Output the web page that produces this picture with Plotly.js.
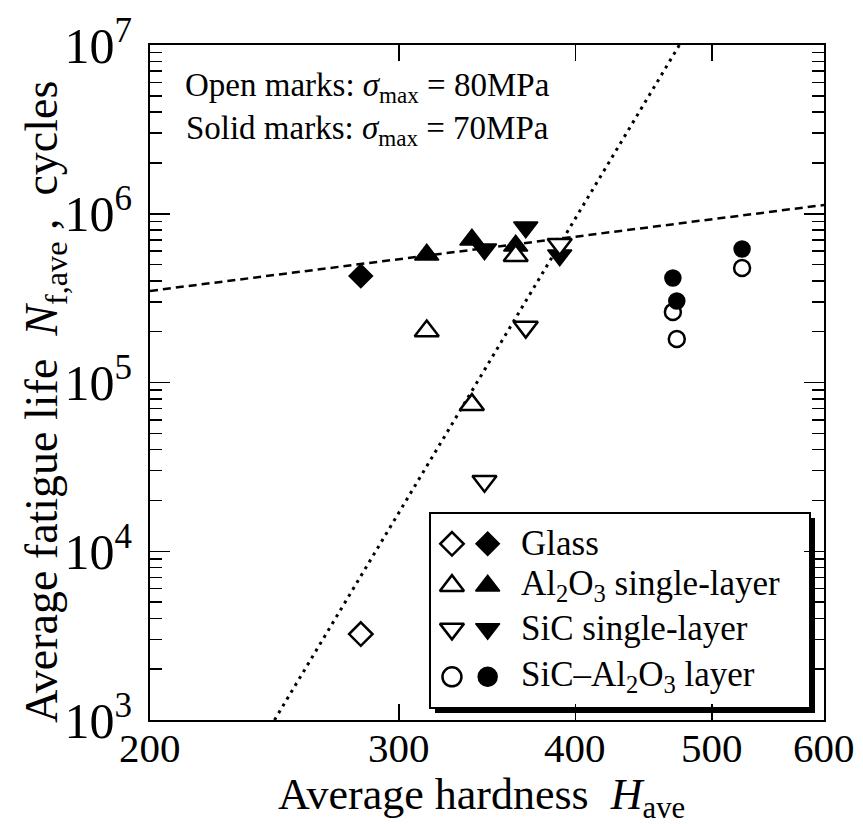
<!DOCTYPE html>
<html>
<head>
<meta charset="utf-8">
<script src="https://cdn.plot.ly/plotly-3.0.1.min.js"></script>
<style>html,body{margin:0;padding:0;background:#fff;}#chart{width:863px;height:824px;}</style>
</head>
<body>
<div id="chart"></div>
<script>
// ---- data ----
const xTickVals = [200, 300, 400, 500, 600];
const xTickText = ["200", "300", "400", "500", "600"];

const glassOpenX = [282];
const glassOpenY = [3230];
const glassFilledX = [282];
const glassFilledY = [428000];

const alOpenX = [314, 338, 363];
const alOpenY = [202000, 73900, 563000];
const alFilledX = [314, 338, 363];
const alFilledY = [571000, 701000, 646000];

const sicOpenX = [345, 369, 390];
const sicOpenY = [26000, 213000, 659000];
const sicFilledX = [345, 369, 390];
const sicFilledY = [616000, 831000, 568000];

const layerOpenX = [469, 472, 525];
const layerOpenY = [262000, 181000, 477000];
const layerFilledX = [469, 472, 525];
const layerFilledY = [416000, 304000, 618000];

const trendSolidX = [200, 600];
const trendSolidY = [349000, 1127000];
const trendOpenX = [245, 474];
const trendOpenY = [1000, 10000000];

const legendLabels = ["Glass", "Al<sub>2</sub>O<sub>3</sub> single-layer", "SiC single-layer", "SiC\u2013Al<sub>2</sub>O<sub>3</sub> layer"];
const legendSymbols = ["diamond", "triangle-up", "triangle-down", "circle"];

const xTitle = "Average hardness\u00A0\u00A0<i>H</i><sub>ave</sub>";
const yTitle = "Average fatigue life\u00A0\u00A0<i>N</i><sub>f,ave</sub>\u00A0,\u00A0\u00A0cycles";
const noteText = "Open marks: <i>\u03C3</i><sub>max</sub> = 80MPa<br>Solid marks: <i>\u03C3</i><sub>max</sub> = 70MPa";

// ---- styling ----
const FONT = "Liberation Serif, Times New Roman, serif";
const openLine = {color: "black", width: 2.5};

function openTrace(x, y, sym, size) {
  return {x: x, y: y, type: "scatter", mode: "markers", showlegend: false, hoverinfo: "skip",
    marker: {symbol: sym, size: size, color: "white", line: openLine}};
}
function filledTrace(x, y, sym, size) {
  return {x: x, y: y, type: "scatter", mode: "markers", showlegend: false, hoverinfo: "skip",
    marker: {symbol: sym, size: size, color: "black", line: {color: "black", width: 1.5}}};
}

const traces = [
  {x: trendSolidX, y: trendSolidY, type: "scatter", mode: "lines", showlegend: false, hoverinfo: "skip",
    line: {color: "black", width: 2.5, dash: "8px,5px"}},
  {x: trendOpenX, y: trendOpenY, type: "scatter", mode: "lines", showlegend: false, hoverinfo: "skip",
    line: {color: "black", width: 3, dash: "3px,5px"}},
  filledTrace(glassFilledX, glassFilledY, "diamond", 18),
  filledTrace(alFilledX, alFilledY, "triangle-up", 21),
  filledTrace(sicFilledX, sicFilledY, "triangle-down", 21),
  openTrace(glassOpenX, glassOpenY, "diamond", 18),
  openTrace(alOpenX, alOpenY, "triangle-up", 21),
  openTrace(sicOpenX, sicOpenY, "triangle-down", 21),
  openTrace(layerOpenX, layerOpenY, "circle", 16),
  filledTrace(layerFilledX, layerFilledY, "circle", 16)
];

// legend markers on an overlay axis (0..1)
const legRowY = [0.261, 0.199, 0.135, 0.064];
const legOpenX = 0.448, legFilledX = 0.501, legTextX = 0.548;
const legSizes = [18, 21, 21, 19];
legendSymbols.forEach(function (sym, i) {
  traces.push({x: [legOpenX], y: [legRowY[i]], xaxis: "x2", yaxis: "y2", type: "scatter", mode: "markers",
    showlegend: false, hoverinfo: "skip",
    marker: {symbol: sym, size: legSizes[i], color: "white", line: openLine}});
  traces.push({x: [legFilledX], y: [legRowY[i]], xaxis: "x2", yaxis: "y2", type: "scatter", mode: "markers",
    showlegend: false, hoverinfo: "skip",
    marker: {symbol: sym, size: legSizes[i], color: "black", line: {color: "black", width: 1.5}}});
});

const annotations = legendLabels.map(function (t, i) {
  return {xref: "paper", yref: "paper", x: legTextX, y: legRowY[i], xanchor: "left", yanchor: "middle",
    text: t, showarrow: false, font: {family: FONT, size: 35, color: "black"}};
});
// x tick labels placed at the axis' own (log) positions
xTickVals.forEach(function (v, i) {
  annotations.push({xref: "x", yref: "paper", x: Math.log10(v), y: -0.042, xanchor: "center", yanchor: "middle",
    text: xTickText[i], showarrow: false, font: {family: FONT, size: 41, color: "black"}});
});
annotations.push({xref: "paper", yref: "paper", x: 0.322, y: 0.905, xanchor: "center", yanchor: "middle",
  text: noteText, showarrow: false, align: "center", font: {family: FONT, size: 33, color: "black"}});
// y axis title
annotations.push({xref: "paper", yref: "paper", x: -0.1558, y: 0.471, xanchor: "center", yanchor: "middle",
  textangle: -90, text: yTitle, showarrow: false, font: {family: FONT, size: 46, color: "black"}});
// x axis title
annotations.push({xref: "paper", yref: "paper", x: 0.492, y: -0.115, xanchor: "center", yanchor: "middle",
  text: xTitle, showarrow: false, font: {family: FONT, size: 44, color: "black"}});

const pxW = 674, pxH = 675;
const bx0 = (430 - 150) / pxW, bx1 = (810 - 150) / pxW;
const by0 = (720 - 708) / pxH, by1 = (720 - 513) / pxH;
const sdx = 5 / pxW, sdy = 5 / pxH;

const layout = {
  width: 863, height: 824,
  margin: {l: 150, r: 39, t: 45, b: 104},
  paper_bgcolor: "white", plot_bgcolor: "white",
  font: {family: FONT, color: "black"},
  showlegend: false,
  xaxis: {
    type: "log", range: [Math.log10(200), Math.log10(600)],
    tickmode: "array", tickvals: xTickVals, showticklabels: false,
    ticks: "inside", ticklen: 16, tickwidth: 1.5, tickcolor: "black",
    showline: true, linewidth: 2, linecolor: "black", mirror: "ticks",
    showgrid: false, zeroline: false
  },
  yaxis: {
    type: "log", range: [3, 7], dtick: 1, exponentformat: "power",
    ticks: "inside", ticklen: 20, tickwidth: 1.5, tickcolor: "black",
    minor: {dtick: "D1", ticks: "inside", ticklen: 12, tickwidth: 1.5, tickcolor: "black", showgrid: false},
    showline: true, linewidth: 2, linecolor: "black", mirror: "ticks",
    showgrid: false, zeroline: false,
    tickfont: {family: FONT, size: 40, color: "black"},
    ticklabelstandoff: 8
  },
  xaxis2: {overlaying: "x", range: [0, 1], visible: false, fixedrange: true},
  yaxis2: {overlaying: "y", range: [0, 1], visible: false, fixedrange: true},
  shapes: [
    {type: "rect", xref: "paper", yref: "paper", x0: bx0 + sdx, x1: bx1 + sdx, y0: by0 - sdy, y1: by1 - sdy,
      fillcolor: "black", line: {width: 0}, layer: "below"},
    {type: "rect", xref: "paper", yref: "paper", x0: bx0, x1: bx1, y0: by0, y1: by1,
      fillcolor: "white", line: {color: "black", width: 2}, layer: "below"}
  ],
  annotations: annotations
};

Plotly.newPlot("chart", traces, layout, {staticPlot: true, displayModeBar: false});
</script>
</body>
</html>
